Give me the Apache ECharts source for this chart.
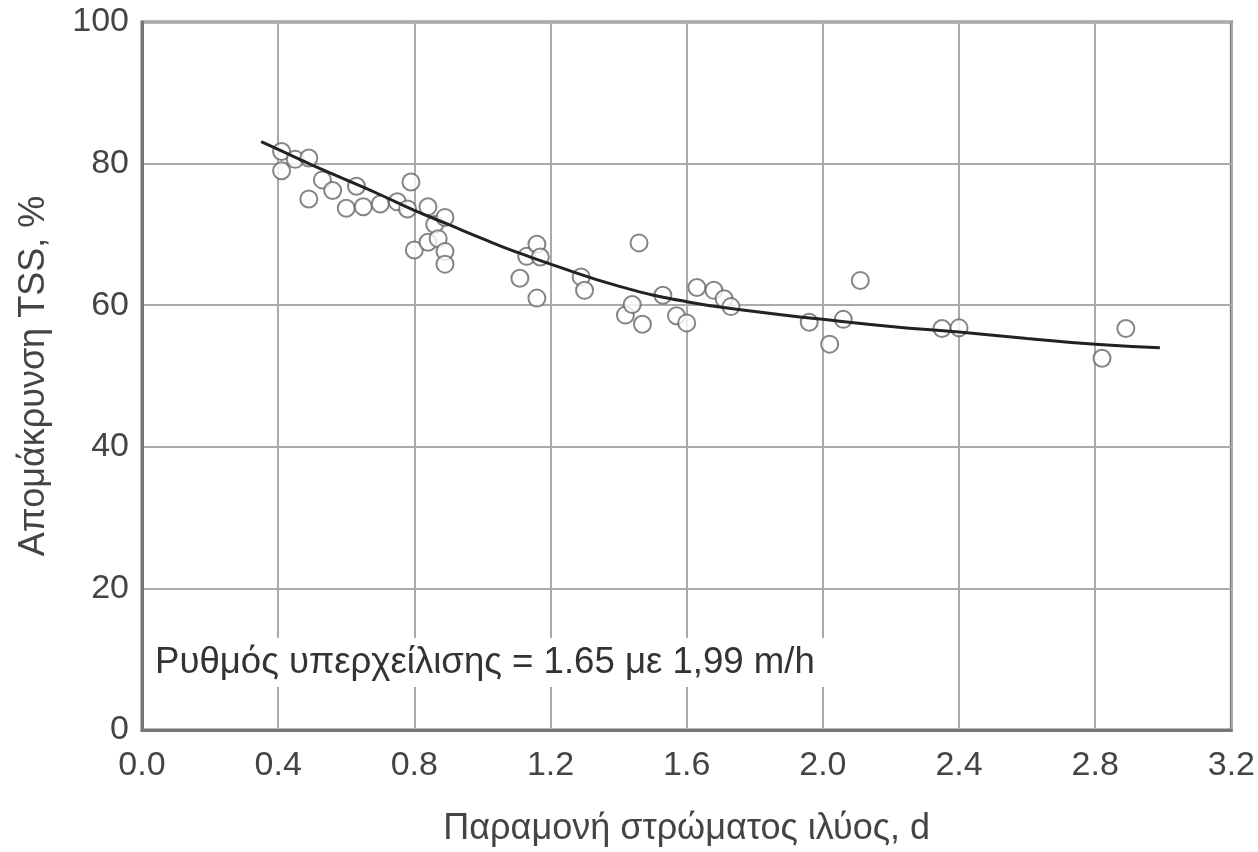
<!DOCTYPE html>
<html>
<head>
<meta charset="utf-8">
<script src="https://cdn.jsdelivr.net/npm/echarts@6/dist/echarts.min.js"></script>
<style>html,body{margin:0;padding:0;background:#fff}#c{width:1258px;height:852px}</style>
</head>
<body>
<div id="c"></div>
<script>
// Observed data points: sludge retention time (d) vs TSS removal (%)
const obsX = [0.41,0.41,0.45,0.49,0.49,0.53,0.56,0.60,0.63,0.65,0.70,0.75,0.78,0.79,0.80,0.84,0.84,0.86,0.87,0.89,0.89,0.89,1.11,1.13,1.16,1.17,1.16,1.29,1.30,1.42,1.44,1.46,1.47,1.53,1.57,1.60,1.63,1.68,1.71,1.73,1.96,2.02,2.06,2.11,2.35,2.40,2.82,2.89];
const obsY = [81.7,79.0,80.6,80.8,75.0,77.7,76.2,73.7,76.8,73.9,74.3,74.6,73.6,77.4,67.8,68.9,73.9,71.4,69.4,72.4,67.6,65.8,63.8,66.9,68.6,66.8,61.0,64.0,62.1,58.6,60.1,68.8,57.3,61.4,58.5,57.5,62.5,62.1,60.9,59.8,57.6,54.5,58.0,63.5,56.7,56.8,52.5,56.7];
// Fitted curve
const fitX = [0.35,0.4,0.5,0.6,0.7,0.8,0.9,1.0,1.1,1.2,1.4,1.6,1.8,2.0,2.2,2.4,2.6,2.8,2.99];
const fitY = [83.1,82.0,79.8,77.7,75.6,73.4,71.4,69.4,67.5,65.8,62.7,60.5,59.1,58.0,57.0,56.2,55.3,54.5,54.0];
const xTicks = [0,0.4,0.8,1.2,1.6,2.0,2.4,2.8,3.2];
const yTicks = [0,20,40,60,80,100];
const note = 'Ρυθμός υπερχείλισης = 1.65 με 1,99 m/h';

const chart = echarts.init(document.getElementById('c'));
const font = 'Liberation Sans, Arial, sans-serif';
chart.setOption({
  animation: false,
  grid: {left: 142, top: 22, right: 26, bottom: 121, show: true, borderColor: '#777', borderWidth: 3, backgroundColor: 'transparent'},
  xAxis: {
    type: 'value', min: xTicks[0], max: xTicks[xTicks.length-1], interval: 0.4,
    name: 'Παραμονή στρώματος ιλύος, d', nameLocation: 'middle', nameGap: 81,
    nameTextStyle: {fontFamily: font, fontSize: 36, color: '#444'},
    axisLine: {show: true, lineStyle: {color: '#777', width: 3}},
    axisTick: {show: false},
    axisLabel: {fontFamily: font, fontSize: 34, color: '#444', margin: 19, formatter: v => v.toFixed(1)},
    splitLine: {show: true, lineStyle: {color: '#aaa', width: 2}}
  },
  yAxis: {
    type: 'value', min: yTicks[0], max: yTicks[yTicks.length-1], interval: 20,
    name: 'Απομάκρυνση TSS, %', nameLocation: 'middle', nameGap: 90,
    nameTextStyle: {fontFamily: font, fontSize: 36, color: '#444'},
    axisLine: {show: true, lineStyle: {color: '#777', width: 3}},
    axisTick: {show: false},
    axisLabel: {fontFamily: font, fontSize: 34, color: '#444', margin: 13},
    splitLine: {show: true, lineStyle: {color: '#aaa', width: 2}}
  },
  graphic: [{
    type: 'text', left: 145, top: 638, z: 100,
    style: {text: note, font: '36.6px ' + font, fill: '#333', backgroundColor: '#fff', padding: [6, 12, 6, 10]}
  }],
  series: [
    {
      type: 'scatter', data: obsX.map((x, i) => [x, obsY[i]]),
      symbol: 'circle', symbolSize: 17, z: 2,
      itemStyle: {color: '#fff', borderColor: '#666', borderWidth: 2}
    },
    {
      type: 'line', data: fitX.map((x, i) => [x, fitY[i]]), smooth: true,
      showSymbol: false, z: 3,
      lineStyle: {color: '#222', width: 3}
    }
  ]
});
</script>
</body>
</html>
